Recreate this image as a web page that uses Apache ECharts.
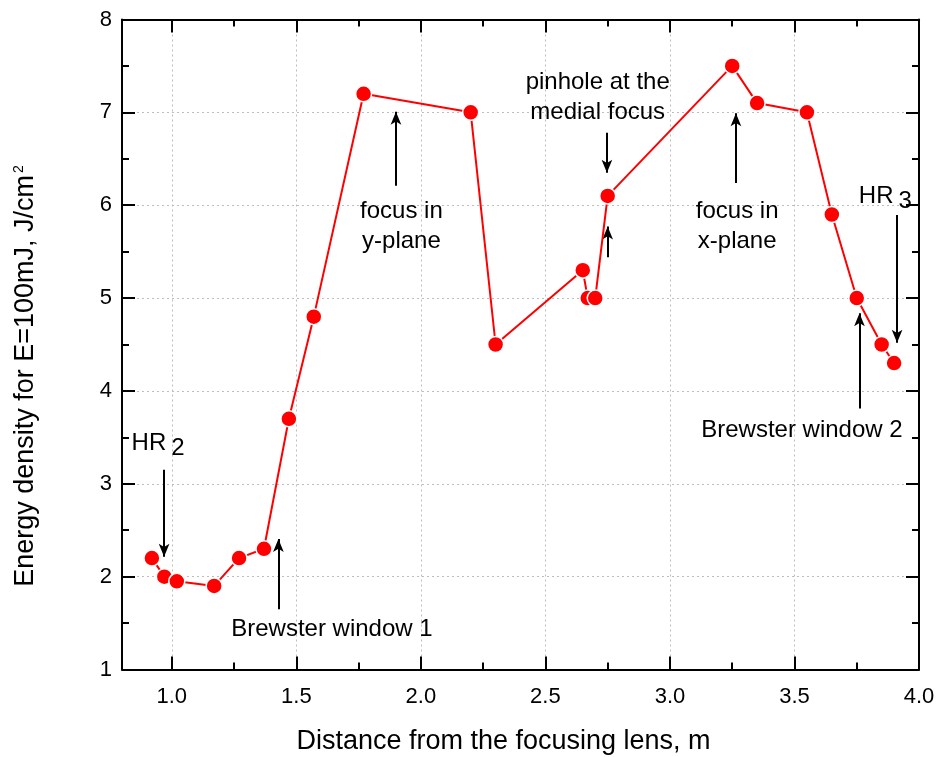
<!DOCTYPE html>
<html>
<head>
<meta charset="utf-8">
<script src="https://cdn.jsdelivr.net/npm/echarts@6/dist/echarts.min.js"></script>
<style>
html,body{margin:0;padding:0;background:#fff;}
#chart{width:937px;height:757px;}
</style>
</head>
<body>
<div id="chart"></div>
<script>
// ---- data ----
const distance = [0.92, 0.97, 1.02, 1.17, 1.27, 1.37, 1.47, 1.57, 1.77, 2.2, 2.3, 2.65, 2.67, 2.70, 2.75, 3.25, 3.35, 3.55, 3.65, 3.75, 3.85, 3.90];
const energy   = [2.2, 2.0, 1.95, 1.9, 2.2, 2.3, 3.7, 4.8, 7.2, 7.0, 4.5, 5.3, 5.0, 5.0, 6.1, 7.5, 7.1, 7.0, 5.9, 5.0, 4.5, 4.3];

const xMajorTicks = [1.0, 1.5, 2.0, 2.5, 3.0, 3.5, 4.0];
const xMinorTicks = [1.25, 1.75, 2.25, 2.75, 3.25, 3.75];

const annoText = ['HR{s|2}', 'Brewster window 1', 'focus in\ny-plane', 'pinhole at the\nmedial focus', 'focus in\nx-plane', 'HR{s|3}', 'Brewster window 2'];
const annoX = [0.945, 1.643, 1.922, 2.71, 3.27, 3.865, 3.53];
const annoY = [3.44, 1.436, 5.776, 7.16, 5.776, 6.10, 3.574];

// arrows: [x, yFrom, yTo]
const arrowX    = [0.969, 1.428, 1.90, 2.747, 2.75, 3.265, 3.912, 3.761];
const arrowFrom = [3.15, 1.65, 6.21, 6.78, 5.44, 6.24, 5.895, 3.81];
const arrowTo   = [2.215, 2.405, 7.007, 6.35, 5.77, 6.99, 4.52, 4.836];

// ---- chart ----
const FONT = 'Liberation Sans, Arial, Helvetica, sans-serif';
const chart = echarts.init(document.getElementById('chart'), null, {renderer: 'canvas'});

const axisLineStyle = {color: '#000', width: 2};
const gridLineStyle = {color: '#bdbdbd', width: 1, type: [2, 3]};

const lineData = distance.map((x, i) => [x, energy[i]]);
const annoData = annoText.map((t, i) => ({value: [annoX[i], annoY[i]], name: t}));
const arrowData = arrowX.map((x, i) => [
  {coord: [x, arrowFrom[i]], symbol: 'none'},
  {coord: [x, arrowTo[i]], symbol: 'arrow', symbolSize: [8, 13]}
]);

const baseX = {type: 'value', min: 0.8, max: 4.0, gridIndex: 0};

chart.setOption({
  animation: false,
  backgroundColor: '#fff',
  textStyle: {fontFamily: FONT, color: '#000'},
  grid: {left: 122, right: 18, top: 19.5, bottom: 87.5, containLabel: false, outerBoundsMode: 'none'},
  xAxis: [
    Object.assign({}, baseX, {
      position: 'bottom',
      name: 'Distance from the focusing lens, m',
      nameLocation: 'middle',
      nameGap: 59,
      nameTextStyle: {fontSize: 27, color: '#000', fontFamily: FONT, padding: [0, 34, 0, 0]},
      axisLine: {show: true, onZero: false, lineStyle: axisLineStyle},
      axisTick: {show: true, inside: true, length: 13, lineStyle: {color: '#000', width: 2}, customValues: xMajorTicks},
      axisLabel: {show: true, fontSize: 22, color: '#000', margin: 16, fontFamily: FONT, customValues: xMajorTicks,
                  formatter: v => v.toFixed(1)},
      splitLine: {show: true, lineStyle: gridLineStyle}
    }),
    Object.assign({}, baseX, {
      position: 'bottom',
      axisLine: {show: false, onZero: false},
      axisTick: {show: true, inside: true, length: 7, lineStyle: {color: '#000', width: 2}, customValues: xMinorTicks},
      axisLabel: {show: false},
      splitLine: {show: false}
    }),
    Object.assign({}, baseX, {
      position: 'top',
      axisLine: {show: true, onZero: false, lineStyle: axisLineStyle},
      axisTick: {show: true, inside: true, length: 13, lineStyle: {color: '#000', width: 2}, customValues: xMajorTicks},
      axisLabel: {show: false},
      splitLine: {show: false}
    }),
    Object.assign({}, baseX, {
      position: 'top',
      axisLine: {show: false, onZero: false},
      axisTick: {show: true, inside: true, length: 7, lineStyle: {color: '#000', width: 2}, customValues: xMinorTicks},
      axisLabel: {show: false},
      splitLine: {show: false}
    })
  ],
  yAxis: [
    {
      type: 'value', min: 1, max: 8, interval: 1, position: 'left',
      name: 'Energy density for E=100mJ, J/cm{sup|2}',
      nameLocation: 'middle',
      nameGap: 83,
      nameTextStyle: {fontSize: 27, color: '#000', fontFamily: FONT, padding: [0, 63, 0, 0],
        rich: {sup: {fontSize: 14, color: '#000', fontFamily: FONT, verticalAlign: 'top', padding: [0, 0, 13, 2]}}},
      axisLine: {show: true, onZero: false, lineStyle: axisLineStyle},
      axisTick: {show: true, inside: true, length: 13, lineStyle: {color: '#000', width: 2}},
      minorTick: {show: true, splitNumber: 2, length: 7, lineStyle: {color: '#000', width: 2}},
      axisLabel: {show: true, fontSize: 22, color: '#000', margin: 10, fontFamily: FONT},
      splitLine: {show: true, lineStyle: gridLineStyle}
    },
    {
      type: 'value', min: 1, max: 8, interval: 1, position: 'right',
      axisLine: {show: true, onZero: false, lineStyle: axisLineStyle},
      axisTick: {show: true, inside: true, length: 13, lineStyle: {color: '#000', width: 2}},
      minorTick: {show: true, splitNumber: 2, length: 7, lineStyle: {color: '#000', width: 2}},
      axisLabel: {show: false},
      splitLine: {show: false}
    }
  ],
  series: [
    {
      type: 'line',
      xAxisIndex: 0, yAxisIndex: 0,
      data: lineData,
      symbol: 'circle',
      symbolSize: 16,
      showAllSymbol: true,
      lineStyle: {color: '#ff0000', width: 2},
      itemStyle: {color: '#ff0000', borderColor: '#fff', borderWidth: 1.5},
      z: 5
    },
    {
      type: 'scatter',
      xAxisIndex: 0, yAxisIndex: 0,
      data: annoData,
      symbolSize: 0,
      silent: true,
      itemStyle: {color: '#000'},
      label: {
        show: true,
        position: 'inside',
        formatter: p => p.name,
        fontSize: 24,
        lineHeight: 30,
        color: '#000',
        opacity: 1,
        textBorderWidth: 0,
        textBorderColor: 'transparent',
        fontFamily: FONT,
        align: 'center',
        rich: {
          s: {fontSize: 24, color: '#000', fontFamily: FONT, verticalAlign: 'top', padding: [8, 0, 0, 5]}
        }
      },
      markLine: {
        silent: true,
        animation: false,
        symbol: ['none', 'arrow'],
        label: {show: false},
        lineStyle: {color: '#000', width: 2, type: 'solid', opacity: 1},
        itemStyle: {color: '#000'},
        emphasis: {disabled: true},
        data: arrowData
      },
      z: 6
    }
  ]
});
</script>
</body>
</html>
